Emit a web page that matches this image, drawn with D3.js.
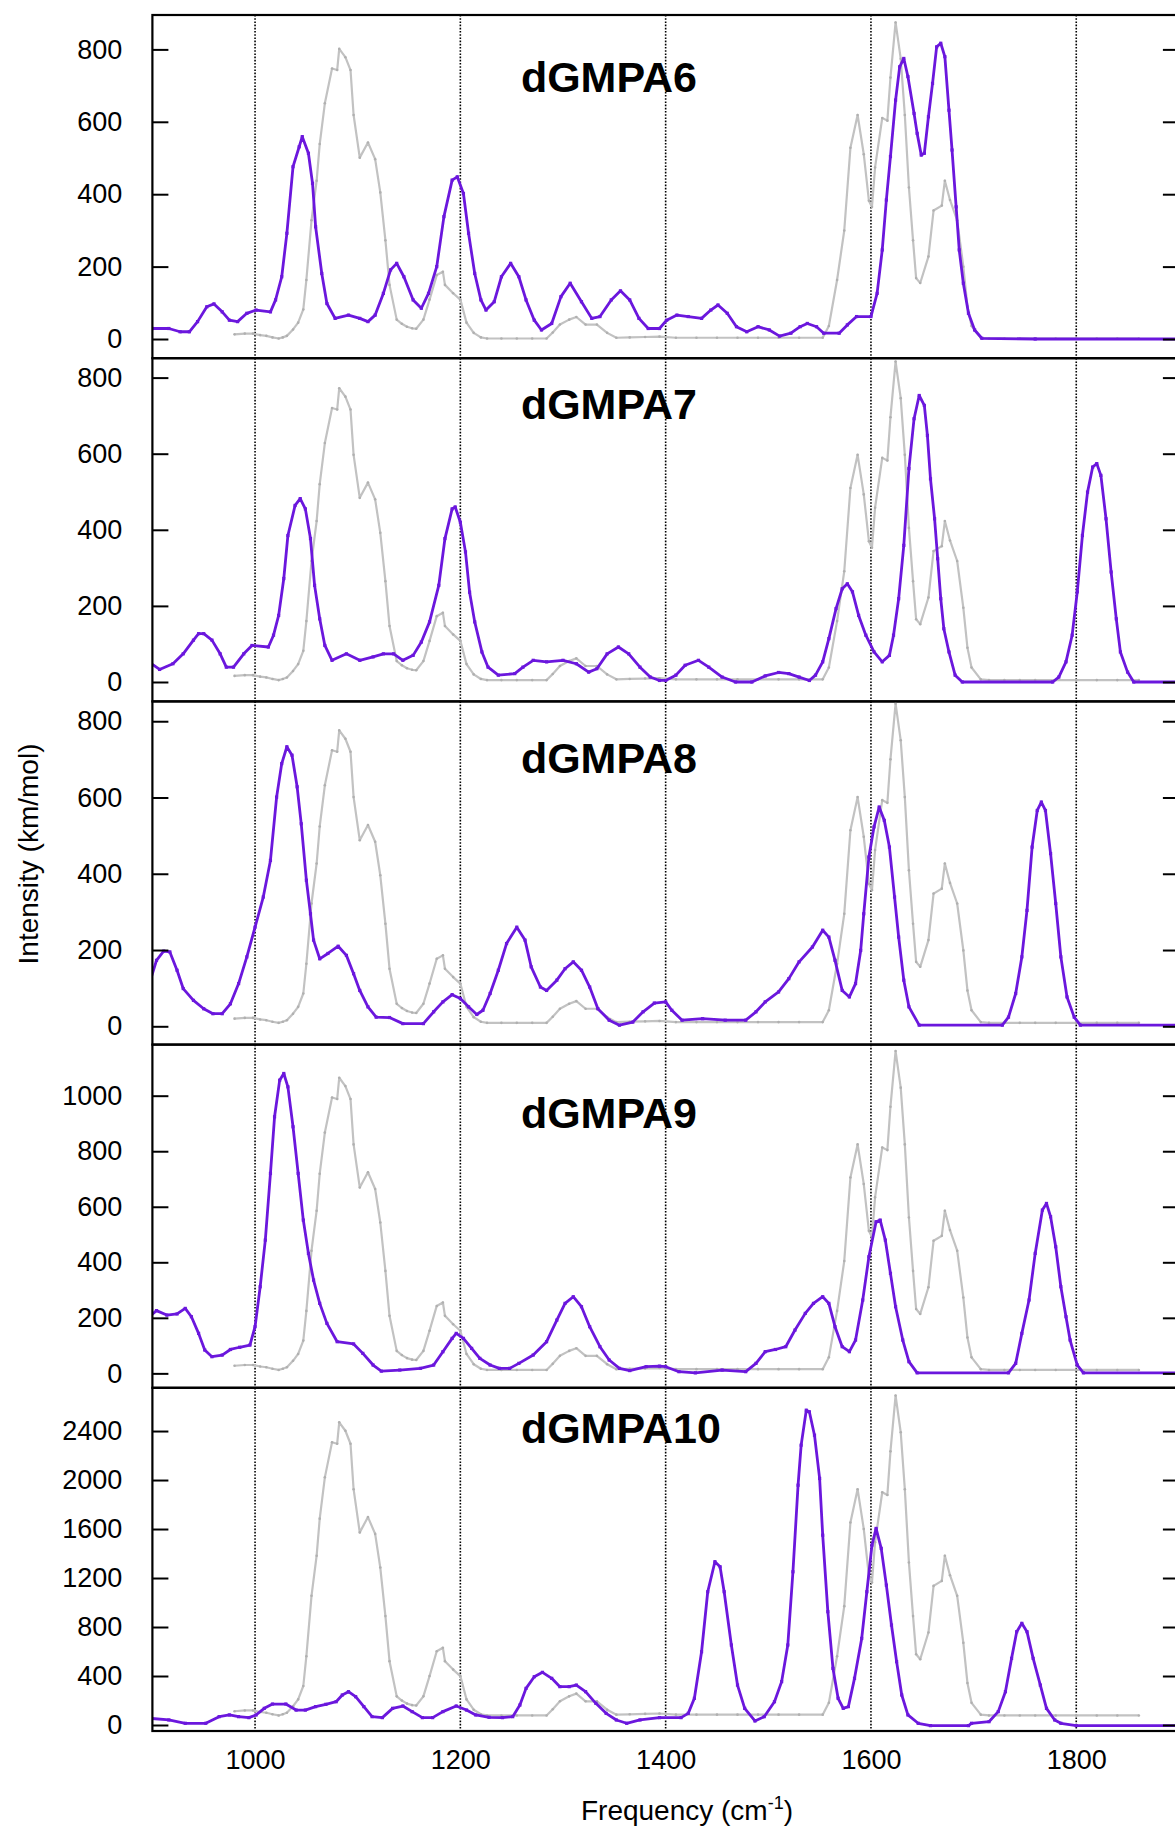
<!DOCTYPE html>
<html>
<head>
<meta charset="utf-8">
<title>dGMPA IR spectra</title>
<script src="https://d3js.org/d3.v7.min.js"></script>
<style>
  body { margin: 0; background: #fff; }
  svg { display: block; }
</style>
</head>
<body>
<div id="chart"></div>
<script>
// --- data: [frequency (cm-1), intensity (km/mol)] ---

const panelNames = ["dGMPA6", "dGMPA7", "dGMPA8", "dGMPA9", "dGMPA10"];

// experimental spectrum (grey), same trace in every panel, rescaled per panel
const expSpectrum = [
  [980,20],[990,22],[998,22],[1005,18],[1011,16],[1017,12],[1023,9],[1027,12],[1031,16],[1037,33],
  [1042,51],[1047,86],[1050,164],[1055,322],[1060,427],[1063,524],[1068,632],[1075,724],[1080,720],[1082,776],
  [1088,754],[1093,720],[1096,601],[1102,488],[1110,528],[1117,484],[1122,396],[1127,269],[1131,151],[1138,59],
  [1143,48],[1148,40],[1153,36],[1157,35],[1164,59],[1170,112],[1177,177],[1183,186],[1185,151],[1193,129],
  [1200,112],[1206,51],[1213,24],[1220,12],[1226,9],[1240,9],[1255,9],[1270,9],[1284,9],[1290,25],
  [1297,46],[1306,59],[1313,66],[1322,46],[1333,46],[1343,24],[1352,11],[1365,12],[1380,13],[1394,14],
  [1410,11],[1430,11],[1450,11],[1470,11],[1490,11],[1510,11],[1530,11],[1553,11],[1559,42],[1567,164],
  [1574,295],[1580,514],[1587,601],[1593,497],[1598,374],[1601,357],[1604,462],[1611,593],[1616,586],[1619,700],
  [1624,846],[1629,750],[1633,601],[1637,409],[1641,269],[1644,169],[1648,156],[1656,226],[1661,348],[1669,361],
  [1672,427],[1677,376],[1684,322],[1690,199],[1694,94],[1698,42],[1707,11],[1715,9],[1730,9],[1745,9],
  [1760,9],[1780,9],[1800,9],[1820,9],[1840,9],[1861,9]
];
const expScale = [1.043, 1.0, 1.0, 1.372, 3.12];
const expOffset = [-8, -4, 0, 0, 50];

// computed spectra (purple)
const dgmpa6 = [
  [900,29],[916,29],[927,20],[936,20],[944,48],[953,89],[960,97],[968,75],[975,52],[983,48],
  [992,71],[1001,80],[1015,75],[1020,108],[1026,172],[1031,292],[1037,476],[1043,531],[1046,559],[1052,513],
  [1056,430],[1059,310],[1065,181],[1070,98],[1078,57],[1091,66],[1102,57],[1110,48],[1117,66],[1125,126],
  [1132,191],[1138,209],[1145,172],[1154,108],[1162,85],[1169,126],[1177,200],[1184,338],[1192,439],[1197,448],
  [1203,402],[1208,292],[1214,181],[1220,108],[1225,80],[1233,103],[1240,172],[1249,209],[1257,172],[1264,108],
  [1272,52],[1279,25],[1289,43],[1298,117],[1307,154],[1318,103],[1328,57],[1336,62],[1347,108],[1356,133],
  [1365,108],[1374,57],[1383,29],[1394,29],[1401,52],[1411,66],[1422,62],[1435,57],[1444,80],[1451,94],
  [1460,71],[1469,34],[1479,20],[1490,34],[1501,25],[1511,8],[1522,16],[1531,34],[1538,43],[1547,34],
  [1554,16],[1569,16],[1577,39],[1586,62],[1600,62],[1606,126],[1611,246],[1615,384],[1619,504],[1624,660],
  [1628,752],[1632,775],[1636,725],[1642,623],[1645,568],[1649,508],[1652,513],[1656,614],[1660,706],[1664,807],
  [1668,817],[1672,780],[1676,632],[1679,522],[1683,365],[1686,246],[1690,154],[1695,71],[1701,25],[1708,2],
  [1760,0],[1900,0]
];
const dgmpa7 = [
  [899,48],[907,33],[920,48],[930,74],[940,110],[945,127],[950,127],[958,110],[966,74],[972,39],
  [979,39],[989,74],[997,96],[1013,92],[1018,123],[1023,175],[1028,272],[1032,385],[1039,464],[1044,482],
  [1049,455],[1054,377],[1058,254],[1063,166],[1068,96],[1075,57],[1089,74],[1102,57],[1115,66],[1125,74],
  [1135,74],[1144,57],[1154,70],[1162,105],[1170,158],[1179,254],[1185,377],[1192,455],[1195,460],[1200,420],
  [1205,342],[1209,236],[1214,158],[1221,79],[1227,39],[1237,18],[1253,22],[1261,39],[1271,57],[1284,53],
  [1300,57],[1313,48],[1325,26],[1333,35],[1343,74],[1354,92],[1364,74],[1375,39],[1385,13],[1394,4],
  [1400,4],[1410,18],[1419,44],[1432,57],[1442,39],[1455,13],[1468,0],[1484,0],[1497,16],[1510,25],
  [1520,22],[1530,13],[1540,4],[1546,18],[1553,53],[1559,114],[1566,193],[1572,245],[1577,258],[1582,237],
  [1588,175],[1595,123],[1603,79],[1611,53],[1618,70],[1622,123],[1627,219],[1632,359],[1637,561],[1642,692],
  [1647,753],[1652,727],[1655,648],[1658,534],[1662,429],[1665,324],[1668,219],[1671,140],[1676,79],[1682,18],
  [1689,0],[1777,0],[1783,13],[1790,53],[1796,123],[1801,237],[1806,385],[1811,499],[1816,565],[1820,574],
  [1824,543],[1829,429],[1834,289],[1839,166],[1843,79],[1850,26],[1856,0],[1900,0]
];
const dgmpa8 = [
  [899,129],[904,173],[911,197],[917,195],[924,147],[930,99],[940,68],[950,46],[959,33],[968,33],
  [976,59],[984,112],[992,182],[1000,260],[1008,339],[1015,435],[1021,601],[1026,689],[1031,733],[1036,711],
  [1041,628],[1045,531],[1050,383],[1054,295],[1057,226],[1063,177],[1071,191],[1081,210],[1089,186],[1096,138],
  [1102,94],[1110,51],[1118,24],[1131,23],[1144,7],[1164,7],[1174,38],[1183,64],[1192,83],[1200,73],
  [1208,51],[1216,31],[1222,42],[1229,86],[1237,147],[1245,217],[1255,260],[1263,226],[1269,156],[1278,103],
  [1284,94],[1294,121],[1302,151],[1310,169],[1318,147],[1326,103],[1334,46],[1345,16],[1355,3],[1368,11],
  [1378,38],[1389,61],[1400,64],[1406,42],[1416,16],[1436,20],[1458,16],[1478,16],[1488,38],[1497,64],
  [1510,90],[1520,125],[1530,169],[1543,208],[1553,252],[1559,234],[1565,173],[1572,94],[1579,77],[1585,112],
  [1590,199],[1593,295],[1598,444],[1603,523],[1608,575],[1613,540],[1618,470],[1623,339],[1627,234],[1632,121],
  [1637,51],[1647,3],[1728,3],[1734,24],[1741,86],[1747,182],[1752,304],[1757,470],[1762,566],[1766,588],
  [1770,566],[1775,453],[1780,322],[1785,182],[1791,77],[1798,24],[1804,3],[1900,3]
];
const dgmpa9 = [
  [899,210],[904,226],[914,210],[924,214],[932,234],[938,204],[945,144],[951,84],[958,60],[968,66],
  [976,86],[985,94],[995,102],[1000,168],[1005,312],[1010,480],[1015,720],[1019,924],[1024,1056],[1028,1080],
  [1032,1032],[1037,888],[1042,720],[1047,552],[1052,432],[1057,336],[1063,252],[1070,180],[1080,114],[1096,106],
  [1105,72],[1115,30],[1123,8],[1141,12],[1161,18],[1174,30],[1183,78],[1192,126],[1196,144],[1203,126],
  [1211,90],[1219,54],[1229,30],[1238,18],[1248,18],[1257,36],[1271,66],[1284,114],[1294,192],[1302,252],
  [1310,276],[1318,240],[1326,168],[1336,96],[1345,48],[1355,18],[1365,10],[1381,24],[1394,26],[1400,24],
  [1413,6],[1429,2],[1455,12],[1478,6],[1488,36],[1497,78],[1507,86],[1517,96],[1526,156],[1536,216],
  [1544,252],[1553,276],[1559,252],[1565,168],[1572,96],[1579,78],[1585,120],[1592,264],[1598,420],[1605,546],
  [1609,552],[1614,480],[1619,360],[1624,240],[1631,120],[1637,42],[1645,2],[1734,2],[1741,36],[1747,144],
  [1754,264],[1760,432],[1767,588],[1771,612],[1775,564],[1780,456],[1785,312],[1790,204],[1794,120],[1801,30],
  [1807,2],[1900,2]
];
const dgmpa10 = [
  [898,54],[916,41],[932,14],[952,14],[965,68],[975,82],[984,68],[994,60],[1001,82],[1009,136],
  [1017,171],[1030,171],[1040,122],[1049,122],[1059,150],[1069,169],[1079,190],[1085,245],[1091,272],[1098,231],
  [1106,150],[1114,68],[1124,60],[1134,136],[1144,155],[1153,109],[1163,60],[1173,60],[1183,109],[1196,155],
  [1206,122],[1215,82],[1228,63],[1241,60],[1251,68],[1258,163],[1264,299],[1272,394],[1280,430],[1289,381],
  [1297,313],[1306,313],[1313,326],[1322,272],[1332,177],[1342,95],[1352,41],[1362,14],[1375,41],[1394,60],
  [1415,60],[1422,95],[1428,218],[1435,598],[1441,1088],[1448,1333],[1453,1292],[1457,1088],[1464,653],[1470,326],
  [1477,136],[1487,33],[1496,68],[1506,190],[1513,354],[1519,653],[1524,1251],[1529,1958],[1532,2285],[1537,2570],
  [1540,2557],[1545,2366],[1550,2013],[1553,1550],[1558,925],[1563,462],[1568,218],[1573,136],[1578,150],[1584,381],
  [1591,707],[1596,1088],[1601,1469],[1605,1605],[1610,1442],[1615,1142],[1620,816],[1625,517],[1630,245],[1636,82],
  [1646,14],[1658,-5],[1695,-5],[1698,14],[1715,27],[1724,109],[1731,272],[1737,544],[1742,762],[1747,830],
  [1752,762],[1758,544],[1765,326],[1771,136],[1779,41],[1785,14],[1800,-5],[1900,-5]
];
const calcSpectra = [dgmpa6, dgmpa7, dgmpa8, dgmpa9, dgmpa10];

const xDomain = [900, 1900];
const xTickValues = [1000, 1200, 1400, 1600, 1800];
const yDomains = [[-53, 895], [-51, 851], [-48, 852], [-52, 1184], [-49, 2753]];
const yTickValues = [
  [0, 200, 400, 600, 800],
  [0, 200, 400, 600, 800],
  [0, 200, 400, 600, 800],
  [0, 200, 400, 600, 800, 1000],
  [0, 400, 800, 1200, 1600, 2000, 2400]
];
// where the panel names sit, in data units (x, y of baseline)
const titleX = 1259;
const titleY = [682, 692, 664, 883, 2302];

// --- layout ---
const FONT = "'Liberation Sans', Arial, Helvetica, sans-serif";
const width = 1175, height = 1828;
const plotLeft = 152.4, plotRight = 1178.9;
const plotTop = 15, panelH = 343.2;
const plotBottom = plotTop + panelH * panelNames.length;
const purple = "#6b17dd", grey = "#c2c2c2";

const svg = d3.select("#chart").append("svg")
  .attr("width", width).attr("height", height);

const x = d3.scaleLinear().domain(xDomain).range([plotLeft, plotRight]);

panelNames.forEach(function(name, i) {
  let top = plotTop + i * panelH;
  let bottom = top + panelH;
  let y = d3.scaleLinear().domain(yDomains[i]).range([bottom, top]);

  let g = svg.append("g").attr("class", "panel");

  svg.append("clipPath").attr("id", "clip" + i)
    .append("rect")
    .attr("x", plotLeft).attr("y", top)
    .attr("width", plotRight - plotLeft).attr("height", panelH);

  // dotted grid at the x ticks
  g.selectAll(".grid").data(xTickValues).enter().append("line")
    .attr("class", "grid")
    .attr("x1", d => x(d)).attr("x2", d => x(d))
    .attr("y1", top).attr("y2", bottom)
    .attr("stroke", "#000").attr("stroke-width", 1.6)
    .attr("stroke-dasharray", "1.6,1.6");

  let plot = g.append("g").attr("clip-path", "url(#clip" + i + ")");

  // experimental trace
  let expLine = d3.line()
    .x(d => x(d[0]))
    .y(d => y(d[1] * expScale[i] + expOffset[i]));
  plot.append("path").datum(expSpectrum)
    .attr("d", expLine)
    .attr("fill", "none").attr("stroke", grey).attr("stroke-width", 2.2)
    .attr("stroke-linejoin", "round");
  plot.selectAll(".expPt").data(expSpectrum).enter().append("circle")
    .attr("class", "expPt")
    .attr("cx", d => x(d[0]))
    .attr("cy", d => y(d[1] * expScale[i] + expOffset[i]))
    .attr("r", 1.3).attr("fill", "#b0b0b0");

  // computed spectrum
  let calcLine = d3.line().x(d => x(d[0])).y(d => y(d[1]));
  plot.append("path").datum(calcSpectra[i])
    .attr("d", calcLine)
    .attr("fill", "none").attr("stroke", purple).attr("stroke-width", 2.8)
    .attr("stroke-linejoin", "round");
  plot.selectAll(".calcPt").data(calcSpectra[i]).enter().append("rect")
    .attr("class", "calcPt")
    .attr("x", d => x(d[0]) - 1.6).attr("y", d => y(d[1]) - 1.6)
    .attr("width", 3.2).attr("height", 3.2).attr("fill", purple);

  // panel name
  g.append("text")
    .attr("x", x(titleX)).attr("y", y(titleY[i]))
    .attr("font-family", FONT).attr("font-size", 43).attr("font-weight", "bold")
    .text(name);

  // y axes, ticks inside on both sides
  let left = g.append("g")
    .attr("transform", "translate(" + plotLeft + ",0)")
    .call(d3.axisLeft(y).tickValues(yTickValues[i]).tickSize(-16).tickPadding(30).tickFormat(d3.format("d")));
  left.select(".domain").remove();
  left.attr("font-family", FONT).attr("font-size", 27);
  left.selectAll("line").attr("stroke-width", 2);
  left.selectAll("text").attr("fill", "#000");

  let right = g.append("g")
    .attr("transform", "translate(" + plotRight + ",0)")
    .call(d3.axisRight(y).tickValues(yTickValues[i]).tickSize(-16).tickFormat(""));
  right.select(".domain").remove();
  right.selectAll("line").attr("stroke-width", 2);

  // frame
  g.append("rect")
    .attr("x", plotLeft).attr("y", top)
    .attr("width", plotRight - plotLeft).attr("height", panelH)
    .attr("fill", "none").attr("stroke", "#000").attr("stroke-width", 2.2);
});

// x axis under the last panel
let xAxis = svg.append("g")
  .attr("transform", "translate(0," + plotBottom + ")")
  .call(d3.axisBottom(x).tickValues(xTickValues).tickSize(0).tickPadding(19).tickFormat(d3.format("d")));
xAxis.select(".domain").remove();
xAxis.attr("font-family", FONT).attr("font-size", 27);
xAxis.selectAll("text").attr("fill", "#000");

// axis titles
svg.append("text")
  .attr("transform", "translate(28,854) rotate(-90)")
  .attr("text-anchor", "middle").attr("dominant-baseline", "central")
  .attr("font-family", FONT).attr("font-size", 28)
  .text("Intensity (km/mol)");

let xLabel = svg.append("text")
  .attr("x", 687).attr("y", 1820)
  .attr("text-anchor", "middle")
  .attr("font-family", FONT).attr("font-size", 28);
xLabel.append("tspan").text("Frequency (cm");
xLabel.append("tspan").attr("font-size", 18).attr("dy", -11).text("-1");
xLabel.append("tspan").attr("dy", 11).text(")");
</script>
</body>
</html>
